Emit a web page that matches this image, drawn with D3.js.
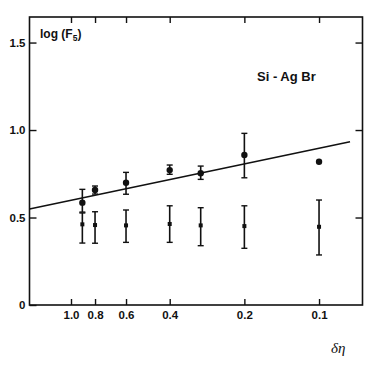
<!DOCTYPE html>
<html>
<head>
    <meta charset="utf-8">
    <script src="https://cdn.jsdelivr.net/npm/d3@7"></script>
    <title>Si - Ag Br</title>
    <style>
        body { margin: 0; background: #fff; }
        svg text { font-family: "Liberation Sans Narrow", "Liberation Sans", Arial, sans-serif; font-weight: bold; fill: #111; }
    </style>
</head>
<body>
    <svg id="chart"></svg>
    <script>
        // upper series: log(F5) with error bars
        var etaUpper = [0.9, 0.8, 0.6, 0.4, 0.3, 0.2, 0.1]
        var fUpper = [0.585, 0.657, 0.699, 0.771, 0.753, 0.857, 0.819]
        var fUpperHi = [0.661, 0.68, 0.758, 0.80, 0.794, 0.981, null]
        var fUpperLo = [0.531, 0.634, 0.633, 0.747, 0.718, 0.727, null]

        // lower series: small squares
        var etaLower = [0.9, 0.8, 0.6, 0.4, 0.3, 0.2, 0.1]
        var fLower = [0.461, 0.457, 0.455, 0.463, 0.455, 0.451, 0.447]
        var fLowerHi = [0.526, 0.533, 0.543, 0.567, 0.556, 0.567, 0.600]
        var fLowerLo = [0.354, 0.353, 0.358, 0.358, 0.339, 0.324, 0.286]

        // straight line fit, read at its two ends
        var lineEta = [1.47, 0.075]
        var lineF = [0.549, 0.933]

        var xTicks = [1.0, 0.8, 0.6, 0.4, 0.2, 0.1]
        var xTickLabels = ['1.0', '0.8', '0.6', '0.4', '0.2', '0.1']
        var yTicks = [0, 0.5, 1.0, 1.5]
        var yTickLabels = ['0', '0.5', '1.0', '1.5']

        var W = 382, H = 368
        // note: "top" is taken by window.top, so use a margin object
        var m = { left: 29.5, right: 362.5, top: 17, bottom: 305 }

        var svg = d3.select('#chart').attr('width', W).attr('height', H)

        var x = d3.scaleLog().domain([1.47, 0.0668]).range([m.left, m.right])
        var y = d3.scaleLinear().domain([0, 1.646]).range([m.bottom, m.top])

        // frame
        svg.append('rect')
            .attr('x', m.left).attr('y', m.top)
            .attr('width', m.right - m.left).attr('height', m.bottom - m.top)
            .attr('fill', 'none').attr('stroke', '#111').attr('stroke-width', 1.6)

        function styleAxis(g) {
            g.select('.domain').remove()
            g.selectAll('line').attr('stroke', '#111').attr('stroke-width', 1.4)
            g.selectAll('text').attr('font-size', 11.5).attr('fill', '#111')
        }

        svg.append('g').attr('transform', 'translate(0,' + m.bottom + ')')
            .call(d3.axisBottom(x).tickValues(xTicks).tickSizeInner(-6).tickSizeOuter(0).tickPadding(6)
                .tickFormat(function (d, i) { return xTickLabels[i] }))
            .call(styleAxis)

        svg.append('g').attr('transform', 'translate(0,' + m.top + ')')
            .call(d3.axisTop(x).tickValues(xTicks).tickSizeInner(-6).tickSizeOuter(0).tickFormat(''))
            .call(styleAxis)

        svg.append('g').attr('transform', 'translate(' + m.left + ',0)')
            .call(d3.axisLeft(y).tickValues(yTicks).tickSizeInner(-7).tickSizeOuter(0).tickPadding(4)
                .tickFormat(function (d, i) { return yTickLabels[i] }))
            .call(styleAxis)

        svg.append('g').attr('transform', 'translate(' + m.right + ',0)')
            .call(d3.axisRight(y).tickValues(yTicks.slice(1)).tickSizeInner(-7).tickSizeOuter(0).tickFormat(''))
            .call(styleAxis)

        // fit line
        var line = d3.line().x(function (d) { return x(d[0]) }).y(function (d) { return y(d[1]) })
        svg.append('path')
            .datum(d3.zip(lineEta, lineF))
            .attr('d', line)
            .attr('fill', 'none').attr('stroke', '#111').attr('stroke-width', 1.6)

        function errorBars(eta, hi, lo) {
            var g = svg.append('g')
            eta.forEach(function (e, i) {
                if (hi[i] == null) return
                var cx = x(e)
                g.append('line').attr('x1', cx).attr('x2', cx)
                    .attr('y1', y(hi[i])).attr('y2', y(lo[i]))
                    .attr('stroke', '#111').attr('stroke-width', 1.6)
                ;[hi[i], lo[i]].forEach(function (v) {
                    g.append('line').attr('x1', cx - 3).attr('x2', cx + 3)
                        .attr('y1', y(v)).attr('y2', y(v))
                        .attr('stroke', '#111').attr('stroke-width', 1.4)
                })
            })
        }

        errorBars(etaLower, fLowerHi, fLowerLo)
        errorBars(etaUpper, fUpperHi, fUpperLo)

        svg.append('g').selectAll('rect')
            .data(d3.zip(etaLower, fLower))
            .join('rect')
            .attr('x', function (d) { return x(d[0]) - 2 })
            .attr('y', function (d) { return y(d[1]) - 2 })
            .attr('width', 4).attr('height', 4)
            .attr('fill', '#111')

        svg.append('g').selectAll('circle')
            .data(d3.zip(etaUpper, fUpper))
            .join('circle')
            .attr('cx', function (d) { return x(d[0]) })
            .attr('cy', function (d) { return y(d[1]) })
            .attr('r', 3.2)
            .attr('fill', '#111')

        // labels
        var yl = svg.append('text').attr('x', 40).attr('y', 38).attr('font-size', 12)
        yl.append('tspan').text('log (F')
        yl.append('tspan').attr('font-size', 8.5).attr('dy', 3).text('5')
        yl.append('tspan').attr('dy', -3).text(')')

        svg.append('text').attr('x', 257).attr('y', 81).attr('font-size', 13).text('Si - Ag Br')

        svg.append('text').attr('x', 331).attr('y', 353)
            .attr('font-size', 15)
            .style('font-family', '"Liberation Serif", "DejaVu Serif", serif')
            .style('font-style', 'italic').style('font-weight', 'normal')
            .text('δη')
    </script>
</body>
</html>
